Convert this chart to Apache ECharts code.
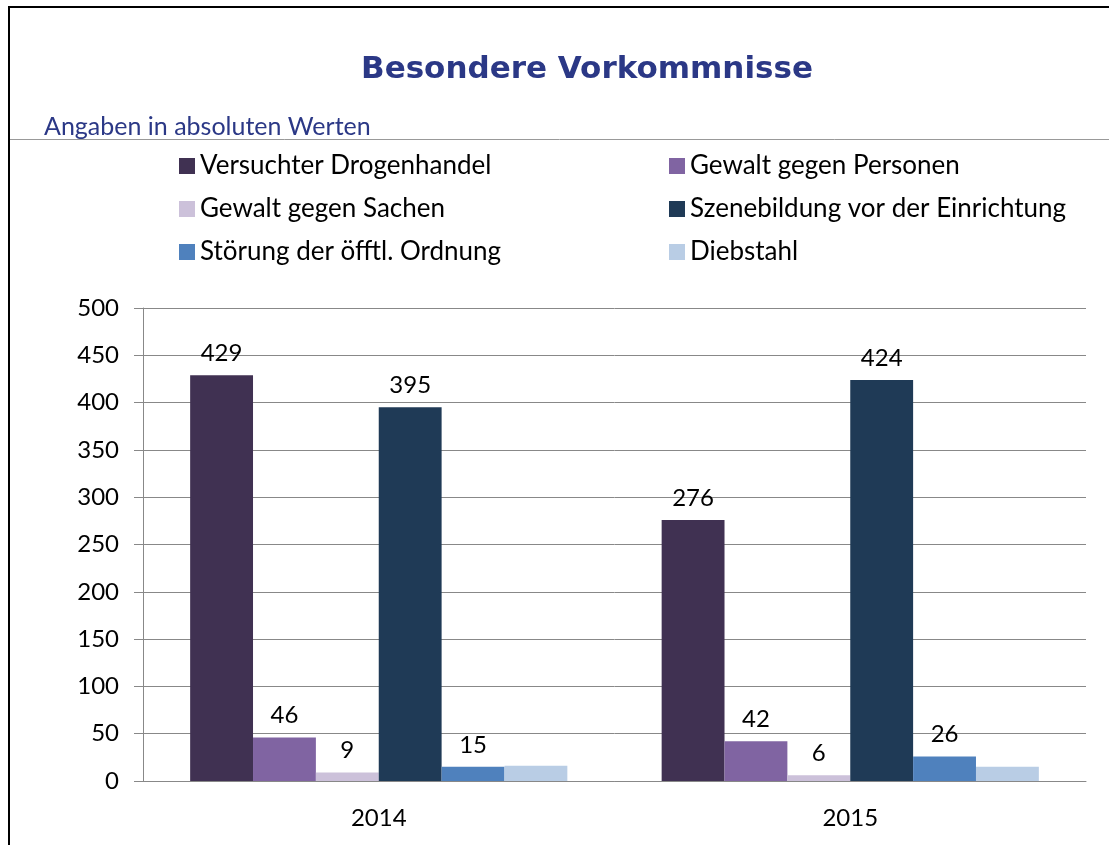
<!DOCTYPE html>
<html lang="de">
<head>
<meta charset="UTF-8">
<title>Besondere Vorkommnisse</title>
<script src="https://cdn.jsdelivr.net/npm/echarts@6/dist/echarts.min.js"></script>
<style>
  html, body { margin: 0; padding: 0; background: #fff; }
  #chart { width: 1109px; height: 845px; }
</style>
</head>
<body>
<div id="chart"></div>
<script>
// data
const years = ['2014', '2015']
const seriesNames = [
    'Versuchter Drogenhandel',
    'Gewalt gegen Personen',
    'Gewalt gegen Sachen',
    'Szenebildung vor der Einrichtung',
    'Störung der öfftl. Ordnung',
    'Diebstahl'
]
const drogenhandel = [429, 276]
const gewaltPersonen = [46, 42]
const gewaltSachen = [9, 6]
const szenebildung = [395, 424]
const stoerung = [15, 26]
const diebstahl = [16, 15]
const showLabel = [true, true, true, true, true, false]
const colors = ['#403152', '#8064A2', '#CCC1DA', '#1F3A56', '#4F81BD', '#B9CDE5']

const values = [drogenhandel, gewaltPersonen, gewaltSachen, szenebildung, stoerung, diebstahl]
const font = 'Lato, "Open Sans", sans-serif'

const myChart = echarts.init(document.getElementById('chart'))

const legendStyle = {
    orient: 'vertical',
    top: 148,
    itemWidth: 16,
    itemHeight: 16,
    itemGap: 17,
    icon: 'rect',
    textStyle: { fontFamily: font, fontSize: 26, color: '#000', lineHeight: 26 }
}

const option = {
    animation: false,
    color: colors,
    title: {
        text: 'Besondere Vorkommnisse',
        left: 582,
        textAlign: 'center',
        top: 49,
        textStyle: { fontFamily: '"DejaVu Sans", sans-serif', fontWeight: 'bold', fontSize: 31, color: '#2B3886' }
    },
    graphic: [
        { type: 'line', shape: { x1: 8, y1: 7, x2: 1109, y2: 7 }, style: { stroke: '#000', lineWidth: 2 } },
        { type: 'line', shape: { x1: 9, y1: 6, x2: 9, y2: 845 }, style: { stroke: '#000', lineWidth: 2 } },
        { type: 'line', shape: { x1: 10, y1: 139.5, x2: 1109, y2: 139.5 }, style: { stroke: '#999', lineWidth: 1 } },
        {
            type: 'text', left: 44, top: 114,
            style: { text: 'Angaben in absoluten Werten', font: '25px ' + font, fill: '#2B3886' }
        }
    ],
    legend: [
        Object.assign({ left: 174, data: [seriesNames[0], seriesNames[2], seriesNames[4]] }, legendStyle),
        Object.assign({ left: 664, data: [seriesNames[1], seriesNames[3], seriesNames[5]] }, legendStyle)
    ],
    grid: { left: 143, right: 23, top: 308, bottom: 64 },
    xAxis: {
        type: 'category',
        data: years,
        axisLine: { lineStyle: { color: '#888' } },
        axisTick: { length: 9, lineStyle: { color: '#888' } },
        axisLabel: { fontFamily: font, fontSize: 24, color: '#000', margin: 25 }
    },
    yAxis: {
        type: 'value',
        min: 0,
        max: 500,
        interval: 50,
        axisLine: { show: true, lineStyle: { color: '#888' } },
        axisTick: { show: true, inside: false, length: 9, lineStyle: { color: '#888' } },
        axisLabel: { fontFamily: font, fontSize: 24, color: '#000', margin: 24 },
        splitLine: { lineStyle: { color: '#888' } }
    },
    series: seriesNames.map((name, i) => ({
        name: name,
        type: 'bar',
        data: values[i],
        barGap: 0,
        barCategoryGap: '20%',
        label: {
            show: showLabel[i],
            position: 'top',
            distance: 10,
            fontFamily: font,
            fontSize: 24,
            color: '#000'
        }
    }))
}
myChart.setOption(option)
</script>
</body>
</html>
